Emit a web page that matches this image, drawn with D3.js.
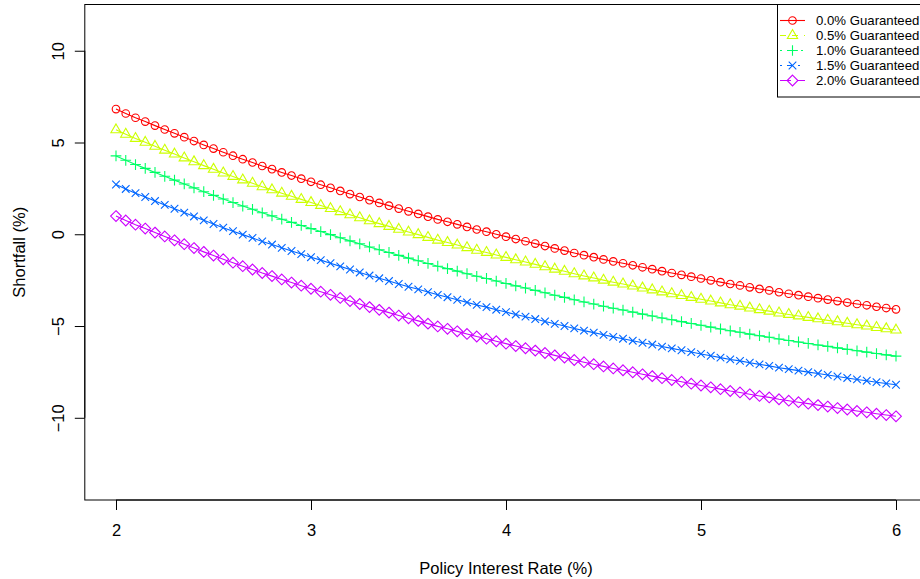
<!DOCTYPE html>
<html>
<head>
<meta charset="utf-8">
<script src="https://cdn.jsdelivr.net/npm/d3@7"></script>
<style>
  body { margin: 0; background: #fff; }
  svg text { font-family: "Liberation Sans", Arial, sans-serif; fill: #000; }
</style>
</head>
<body>
<div class="chart"></div>
<script>

///////////////////////////////////////////////////
//  Data
///////////////////////////////////////////////////

const rates = [
  2.00, 2.05, 2.10, 2.15, 2.20, 2.25, 2.30, 2.35, 2.40, 2.45,
  2.50, 2.55, 2.60, 2.65, 2.70, 2.75, 2.80, 2.85, 2.90, 2.95,
  3.00, 3.05, 3.10, 3.15, 3.20, 3.25, 3.30, 3.35, 3.40, 3.45,
  3.50, 3.55, 3.60, 3.65, 3.70, 3.75, 3.80, 3.85, 3.90, 3.95,
  4.00, 4.05, 4.10, 4.15, 4.20, 4.25, 4.30, 4.35, 4.40, 4.45,
  4.50, 4.55, 4.60, 4.65, 4.70, 4.75, 4.80, 4.85, 4.90, 4.95,
  5.00, 5.05, 5.10, 5.15, 5.20, 5.25, 5.30, 5.35, 5.40, 5.45,
  5.50, 5.55, 5.60, 5.65, 5.70, 5.75, 5.80, 5.85, 5.90, 5.95, 6.00
];

const shortfall00 = [
  6.82, 6.58, 6.35, 6.14, 5.92, 5.71, 5.50, 5.29, 5.08, 4.87,
  4.67, 4.47, 4.28, 4.09, 3.91, 3.72, 3.55, 3.37, 3.20, 3.03,
  2.86, 2.70, 2.53, 2.36, 2.19, 2.03, 1.86, 1.71, 1.56, 1.40,
  1.25, 1.11, 0.96, 0.81, 0.68, 0.54, 0.40, 0.26, 0.14, 0.00,
  -0.13, -0.26, -0.38, -0.51, -0.64, -0.77, -0.89, -1.02, -1.14, -1.25,
  -1.37, -1.48, -1.58, -1.69, -1.80, -1.90, -2.01, -2.11, -2.21, -2.31,
  -2.41, -2.51, -2.61, -2.71, -2.79, -2.89, -2.98, -3.06, -3.16, -3.24,
  -3.32, -3.40, -3.48, -3.56, -3.64, -3.72, -3.80, -3.87, -3.95, -4.02, -4.09
];

const shortfall05 = [
  5.69, 5.45, 5.22, 5.01, 4.79, 4.58, 4.37, 4.16, 3.95, 3.74,
  3.54, 3.34, 3.15, 2.96, 2.78, 2.59, 2.42, 2.24, 2.07, 1.90,
  1.73, 1.57, 1.40, 1.23, 1.06, 0.90, 0.73, 0.58, 0.43, 0.27,
  0.12, -0.02, -0.17, -0.32, -0.45, -0.59, -0.73, -0.87, -0.99, -1.13,
  -1.26, -1.39, -1.51, -1.64, -1.77, -1.90, -2.02, -2.15, -2.27, -2.38,
  -2.50, -2.61, -2.71, -2.82, -2.93, -3.03, -3.14, -3.24, -3.34, -3.44,
  -3.54, -3.64, -3.74, -3.84, -3.92, -4.02, -4.11, -4.19, -4.29, -4.37,
  -4.45, -4.53, -4.61, -4.69, -4.77, -4.85, -4.93, -5.00, -5.08, -5.15, -5.22
];

const shortfall10 = [
  4.27, 4.03, 3.80, 3.59, 3.37, 3.16, 2.95, 2.74, 2.53, 2.32,
  2.12, 1.92, 1.73, 1.54, 1.36, 1.17, 1.00, 0.82, 0.65, 0.48,
  0.31, 0.15, -0.02, -0.19, -0.36, -0.52, -0.69, -0.84, -0.99, -1.15,
  -1.30, -1.44, -1.59, -1.74, -1.87, -2.01, -2.15, -2.29, -2.41, -2.55,
  -2.68, -2.81, -2.93, -3.06, -3.19, -3.32, -3.44, -3.57, -3.69, -3.80,
  -3.92, -4.03, -4.13, -4.24, -4.35, -4.45, -4.56, -4.66, -4.76, -4.86,
  -4.96, -5.06, -5.16, -5.26, -5.34, -5.44, -5.53, -5.61, -5.71, -5.79,
  -5.87, -5.95, -6.03, -6.11, -6.19, -6.27, -6.35, -6.42, -6.50, -6.57, -6.64
];

const shortfall15 = [
  2.71, 2.47, 2.24, 2.03, 1.81, 1.60, 1.39, 1.18, 0.97, 0.76,
  0.56, 0.36, 0.17, -0.02, -0.20, -0.39, -0.56, -0.74, -0.91, -1.08,
  -1.25, -1.41, -1.58, -1.75, -1.92, -2.08, -2.25, -2.40, -2.55, -2.71,
  -2.86, -3.00, -3.15, -3.30, -3.43, -3.57, -3.71, -3.85, -3.97, -4.11,
  -4.24, -4.37, -4.49, -4.62, -4.75, -4.88, -5.00, -5.13, -5.25, -5.36,
  -5.48, -5.59, -5.69, -5.80, -5.91, -6.01, -6.12, -6.22, -6.32, -6.42,
  -6.52, -6.62, -6.72, -6.82, -6.90, -7.00, -7.09, -7.17, -7.27, -7.35,
  -7.43, -7.51, -7.59, -7.67, -7.75, -7.83, -7.91, -7.98, -8.06, -8.13, -8.20
];

const shortfall20 = [
  0.99, 0.75, 0.52, 0.31, 0.09, -0.12, -0.33, -0.54, -0.75, -0.96,
  -1.16, -1.36, -1.55, -1.74, -1.92, -2.11, -2.28, -2.46, -2.63, -2.80,
  -2.97, -3.13, -3.30, -3.47, -3.64, -3.80, -3.97, -4.12, -4.27, -4.43,
  -4.58, -4.72, -4.87, -5.02, -5.15, -5.29, -5.43, -5.57, -5.69, -5.83,
  -5.96, -6.09, -6.21, -6.34, -6.47, -6.60, -6.72, -6.85, -6.97, -7.08,
  -7.20, -7.31, -7.41, -7.52, -7.63, -7.73, -7.84, -7.94, -8.04, -8.14,
  -8.24, -8.34, -8.44, -8.54, -8.62, -8.72, -8.81, -8.89, -8.99, -9.07,
  -9.15, -9.23, -9.31, -9.39, -9.47, -9.55, -9.63, -9.70, -9.78, -9.85, -9.92
];

const seriesNames = ['0.0% Guaranteed', '0.5% Guaranteed', '1.0% Guaranteed', '1.5% Guaranteed', '2.0% Guaranteed'];
const seriesValues = [shortfall00, shortfall05, shortfall10, shortfall15, shortfall20];
const xTicks = [2, 3, 4, 5, 6];
const yTicks = [-10, -5, 0, 5, 10];

///////////////////////////////////////////////////
//  Layout
///////////////////////////////////////////////////

const width = 920;
const height = 579;

const colors = ['#FF0000', '#CCFF00', '#00FF66', '#0066FF', '#CC00FF'];
const shapes = ['circle', 'triangle', 'plus', 'cross', 'diamond'];
const dashes = [null, '6,6', '2,5', '2,5,6,5', '11,6'];
const symbolR = 3.8;

// plot region (R style, 4% padding round the data)
let x = d3.scaleLinear().domain([1.84, 6.16]).range([84.8, 927.2]);
let y = d3.scaleLinear().domain([-14.48, 12.52]).range([500, 4.5]);

let svg = d3.select('.chart')
  .append('svg')
    .attr('width', width)
    .attr('height', height);

// the box runs off the right edge like the original
svg.append('rect')
  .attr('x', x.range()[0])
  .attr('y', y.range()[1])
  .attr('width', x.range()[1] - x.range()[0])
  .attr('height', y.range()[0] - y.range()[1])
  .style('fill', 'none')
  .style('stroke', '#000')
  .style('stroke-width', 1);

///////////////////////////////////////////////////
//  Axes
///////////////////////////////////////////////////

let xAxis = svg.append('g')
  .attr('transform', `translate(0, ${y.range()[0]})`)
  .call(d3.axisBottom(x).tickValues(xTicks).tickSize(10).tickSizeOuter(0).tickFormat(d3.format('d')));

xAxis.select('.domain').remove();
xAxis.append('line')
  .attr('x1', x(2)).attr('x2', x(6))
  .style('stroke', '#000');
xAxis.selectAll('text')
  .attr('y', 36)
  .attr('dy', null)
  .style('font-size', '16.5px')
  .style('font-family', '"Liberation Sans", Arial, sans-serif');

let yAxis = svg.append('g')
  .attr('transform', `translate(${x.range()[0]}, 0)`)
  .call(d3.axisLeft(y).tickValues(yTicks).tickSize(10).tickSizeOuter(0).tickFormat(d => d < 0 ? '\u2212' + Math.abs(d) : d));

yAxis.select('.domain').remove();
yAxis.append('line')
  .attr('y1', y(-10)).attr('y2', y(10))
  .style('stroke', '#000');
yAxis.selectAll('text')
  .attr('transform', 'rotate(-90)')
  .attr('x', 0)
  .attr('y', -21)
  .attr('dy', null)
  .attr('text-anchor', 'middle')
  .style('font-size', '16.5px')
  .style('font-family', '"Liberation Sans", Arial, sans-serif');

svg.selectAll('.tick line').style('stroke', '#000');

svg.append('text')
  .attr('x', (x(2) + x(6)) / 2)
  .attr('y', 574)
  .attr('text-anchor', 'middle')
  .style('font-size', '16.5px')
  .text('Policy Interest Rate (%)');

svg.append('text')
  .attr('transform', `translate(25, ${(y.range()[0] + y.range()[1]) / 2}) rotate(-90)`)
  .attr('text-anchor', 'middle')
  .style('font-size', '16.5px')
  .text('Shortfall (%)');

///////////////////////////////////////////////////
//  Symbols (R pch 1..5)
///////////////////////////////////////////////////

function symbolPath(shape, cx, cy) {
  const r = symbolR;
  if (shape === 'circle') {
    return `M${cx + r},${cy}A${r},${r} 0 1,1 ${cx - r},${cy}A${r},${r} 0 1,1 ${cx + r},${cy}Z`;
  }
  if (shape === 'triangle') {
    const tr = r * 1.555, tx = r * 1.347, ty = r * 0.778;
    return `M${cx},${cy - tr}L${cx + tx},${cy + ty}L${cx - tx},${cy + ty}Z`;
  }
  if (shape === 'plus') {
    const p = r * Math.SQRT2;
    return `M${cx - p},${cy}L${cx + p},${cy}M${cx},${cy - p}L${cx},${cy + p}`;
  }
  if (shape === 'cross') {
    return `M${cx - r},${cy - r}L${cx + r},${cy + r}M${cx - r},${cy + r}L${cx + r},${cy - r}`;
  }
  const p = r * Math.SQRT2;
  return `M${cx},${cy - p}L${cx + p},${cy}L${cx},${cy + p}L${cx - p},${cy}Z`;
}

///////////////////////////////////////////////////
//  Series
///////////////////////////////////////////////////

let line = d3.line()
  .x(d => x(d[0]))
  .y(d => y(d[1]));

seriesValues.forEach((vals, i) => {
  let pts = rates.map((r, j) => [r, vals[j]]);
  let g = svg.append('g');

  g.append('path')
    .datum(pts)
    .attr('d', line)
    .style('fill', 'none')
    .style('stroke', colors[i])
    .style('stroke-width', 1.1);

  g.selectAll('path.pt')
    .data(pts)
    .enter()
    .append('path')
      .attr('class', 'pt')
      .attr('d', d => symbolPath(shapes[i], x(d[0]), y(d[1])))
      .style('fill', 'none')
      .style('stroke', colors[i])
      .style('stroke-width', 1.1);
});

///////////////////////////////////////////////////
//  Legend
///////////////////////////////////////////////////

let legend = svg.append('g');

legend.append('rect')
  .attr('x', 777.5)
  .attr('y', y.range()[1])
  .attr('width', x.range()[1] - 777.5)
  .attr('height', 92.5)
  .style('fill', '#fff')
  .style('stroke', '#000')
  .style('stroke-width', 1);

seriesNames.forEach((name, i) => {
  let ly = 20.5 + i * 15;
  legend.append('line')
    .attr('x1', 780).attr('x2', 805)
    .attr('y1', ly).attr('y2', ly)
    .style('stroke', colors[i])
    .style('stroke-width', 1.1)
    .style('stroke-dasharray', dashes[i]);
  legend.append('path')
    .attr('d', symbolPath(shapes[i], 792.5, ly))
    .style('fill', 'none')
    .style('stroke', colors[i])
    .style('stroke-width', 1.1);
  legend.append('text')
    .attr('x', 816)
    .attr('y', ly + 4.7)
    .style('font-size', '13.2px')
    .text(name);
});

</script>
</body>
</html>
